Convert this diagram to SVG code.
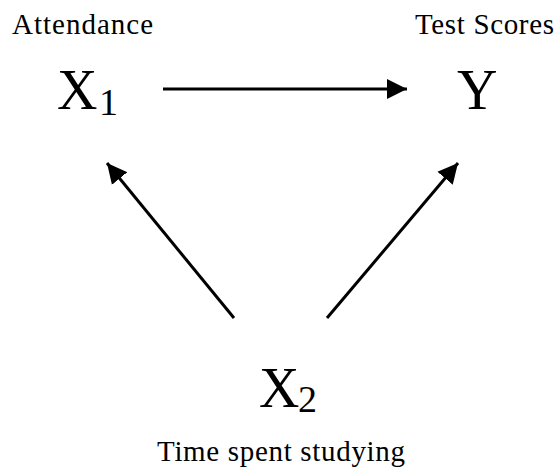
<svg xmlns="http://www.w3.org/2000/svg" width="558" height="469" viewBox="0 0 558 469">
<style>
.lbl{font-family:"Liberation Serif","DejaVu Serif",serif;font-size:29px;fill:#000}
.var{font-family:"Liberation Serif","DejaVu Serif",serif;font-size:56px;fill:#000}
.sub{font-family:"Liberation Serif","DejaVu Serif",serif;font-size:38px;fill:#000}
.edge{stroke:#000;stroke-width:3;fill:none;marker-end:url(#ah)}
</style>
<defs>
<marker id="ah" markerUnits="userSpaceOnUse" markerWidth="22" markerHeight="22" refX="20" refY="10" orient="auto" viewBox="0 0 22 20">
<path d="M0,0 L20,10 L0,20 Z" fill="#000"/>
</marker>
</defs>
<rect width="558" height="469" fill="#fff"/>
<g id="connectors">
<line class="edge" x1="163" y1="89" x2="407" y2="89"/>
<line class="edge" x1="234" y1="318" x2="107" y2="163"/>
<line class="edge" x1="327" y1="318" x2="458" y2="163"/>
</g>
<g id="x1">
<text class="lbl" x="12" y="34" textLength="141" lengthAdjust="spacing">Attendance</text>
<text class="var" x="57" y="109">X</text>
<text class="sub" x="99" y="115">1</text>
</g>
<g id="y">
<text class="lbl" x="415" y="34" textLength="139" lengthAdjust="spacing">Test Scores</text>
<text class="var" x="457" y="109">Y</text>
</g>
<g id="x2">
<text class="var" x="259" y="407">X</text>
<text class="sub" x="298" y="412">2</text>
<text class="lbl" x="157" y="461" textLength="248" lengthAdjust="spacing">Time spent studying</text>
</g>
</svg>
